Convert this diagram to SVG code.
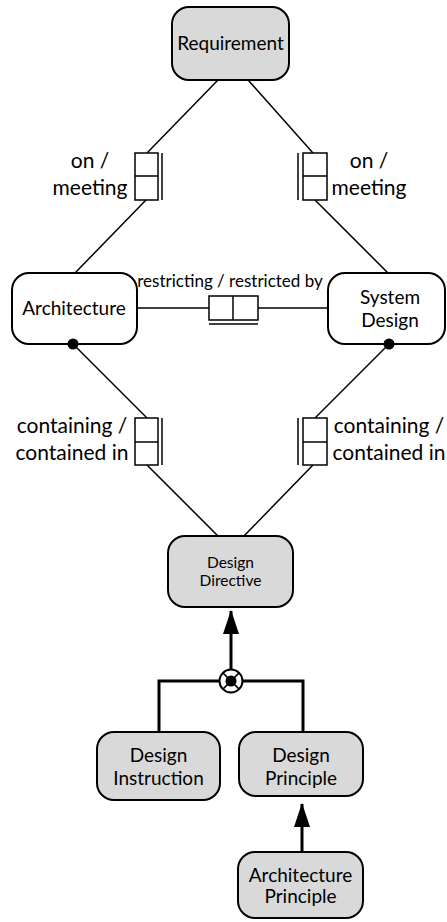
<svg xmlns="http://www.w3.org/2000/svg" width="447" height="922" viewBox="0 0 447 922">
  <style>
    .node rect { stroke: #000; stroke-width: 2; }
    .grey rect { fill: #d9d9d9; }
    .white rect { fill: #fff; }
    text { font-family: Lato, "Open Sans", "DejaVu Sans", sans-serif; fill: #000; text-anchor: middle; }
    .t { font-size: 19px; }
    .small { font-size: 15.5px; }
    .lbl { font-size: 21px; }
    .thin { stroke: #000; stroke-width: 1.5; fill: none; }
    .thick { stroke: #000; stroke-width: 3; fill: none; }
    .card { fill: #fff; stroke: #000; stroke-width: 1.5; }
  </style>
  <defs>
    <marker id="arrow" viewBox="0 0 24 16" refX="23" refY="8" markerWidth="24" markerHeight="16" markerUnits="userSpaceOnUse" orient="auto">
      <path d="M0,0 L24,8 L0,16 Z" fill="#000"/>
    </marker>
  </defs>
  <rect width="447" height="922" fill="#fff"/>

  <!-- nodes -->
  <g id="requirement" class="node grey">
    <rect x="172" y="7" width="117" height="73" rx="17"/>
    <text class="t" x="230.5" y="50">Requirement</text>
  </g>
  <g id="architecture" class="node white">
    <rect x="12" y="273" width="125" height="71" rx="17"/>
    <text class="t" x="74" y="315">Architecture</text>
  </g>
  <g id="system-design" class="node white">
    <rect x="328" y="273" width="117" height="71" rx="17"/>
    <text class="t" x="390" y="304">System</text>
    <text class="t" x="390" y="327">Design</text>
  </g>
  <g id="design-directive" class="node grey">
    <rect x="168" y="536" width="125" height="71" rx="17"/>
    <text class="small" x="230.5" y="568">Design</text>
    <text class="small" x="230.5" y="586">Directive</text>
  </g>
  <g id="design-instruction" class="node grey">
    <rect x="97" y="732" width="123" height="68" rx="17"/>
    <text class="t" x="158.5" y="762">Design</text>
    <text class="t" x="158.5" y="785">Instruction</text>
  </g>
  <g id="design-principle" class="node grey">
    <rect x="239" y="732" width="124" height="64" rx="17"/>
    <text class="t" x="301" y="762">Design</text>
    <text class="t" x="301" y="785">Principle</text>
  </g>
  <g id="architecture-principle" class="node grey">
    <rect x="238" y="852" width="125" height="66" rx="17"/>
    <text class="t" x="300.5" y="882">Architecture</text>
    <text class="t" x="300.5" y="903">Principle</text>
  </g>

  <!-- connectors -->
  <g id="connectors">
    <!-- Requirement to Architecture / System Design -->
    <line class="thin" x1="218" y1="80" x2="147" y2="153"/>
    <line class="thin" x1="146" y1="200" x2="75" y2="273"/>
    <line class="thin" x1="248" y1="80" x2="313" y2="153"/>
    <line class="thin" x1="315" y1="200" x2="388" y2="273"/>
    <!-- Architecture to System Design -->
    <line class="thin" x1="137" y1="308" x2="209" y2="308"/>
    <line class="thin" x1="258" y1="308" x2="328" y2="308"/>
    <!-- containment towards Design Directive -->
    <line class="thin" x1="73" y1="344" x2="147" y2="418"/>
    <line class="thin" x1="147" y1="465" x2="218" y2="536"/>
    <line class="thin" x1="389" y1="344" x2="315" y2="418"/>
    <line class="thin" x1="313" y1="465" x2="244" y2="536"/>
    <circle cx="73" cy="344" r="5.5" fill="#000"/>
    <circle cx="389" cy="344" r="5.5" fill="#000"/>

    <!-- cardinality boxes -->
    <g id="card-req-arch">
      <rect class="card" x="135" y="153" width="23" height="47"/>
      <line class="thin" x1="135" y1="176" x2="158" y2="176"/>
      <line class="thin" x1="162" y1="153" x2="162" y2="200"/>
    </g>
    <g id="card-req-sys">
      <rect class="card" x="303" y="153" width="24" height="47"/>
      <line class="thin" x1="303" y1="176" x2="327" y2="176"/>
      <line class="thin" x1="298" y1="153" x2="298" y2="200"/>
    </g>
    <g id="card-arch-sys">
      <rect class="card" x="209" y="296" width="49" height="24"/>
      <line class="thin" x1="233" y1="296" x2="233" y2="320"/>
      <line class="thin" x1="209" y1="324" x2="258" y2="324"/>
    </g>
    <g id="card-arch-dir">
      <rect class="card" x="135" y="418" width="23" height="47"/>
      <line class="thin" x1="135" y1="442" x2="158" y2="442"/>
      <line class="thin" x1="162" y1="418" x2="162" y2="465"/>
    </g>
    <g id="card-sys-dir">
      <rect class="card" x="303" y="418" width="24" height="47"/>
      <line class="thin" x1="303" y1="442" x2="327" y2="442"/>
      <line class="thin" x1="298" y1="418" x2="298" y2="465"/>
    </g>

    <!-- relation labels -->
    <text class="lbl" x="90" y="168">on /</text>
    <text class="lbl" x="90" y="195">meeting</text>
    <text class="lbl" x="369" y="168">on /</text>
    <text class="lbl" x="369" y="195">meeting</text>
    <text class="lbl" x="230" y="287" style="font-size:17px">restricting / restricted by</text>
    <text class="lbl" x="72" y="433">containing /</text>
    <text class="lbl" x="72" y="460">contained in</text>
    <text class="lbl" x="389" y="433">containing /</text>
    <text class="lbl" x="389" y="460">contained in</text>

    <!-- specialisation tree -->
    <polyline class="thick" points="159,732 159,681 220,681"/>
    <polyline class="thick" points="303,732 303,681 242,681"/>
    <line class="thick" x1="231" y1="670" x2="231" y2="611" marker-end="url(#arrow)"/>
    <g id="junction">
      <circle cx="231" cy="681" r="11.5" fill="#fff" stroke="#000" stroke-width="2"/>
      <line x1="222.9" y1="672.9" x2="239.1" y2="689.1" stroke="#000" stroke-width="1.5"/>
      <line x1="239.1" y1="672.9" x2="222.9" y2="689.1" stroke="#000" stroke-width="1.5"/>
      <circle cx="231" cy="681" r="5.5" fill="#000"/>
    </g>
    <line class="thick" x1="302" y1="852" x2="302" y2="804" marker-end="url(#arrow)"/>
  </g>
</svg>
